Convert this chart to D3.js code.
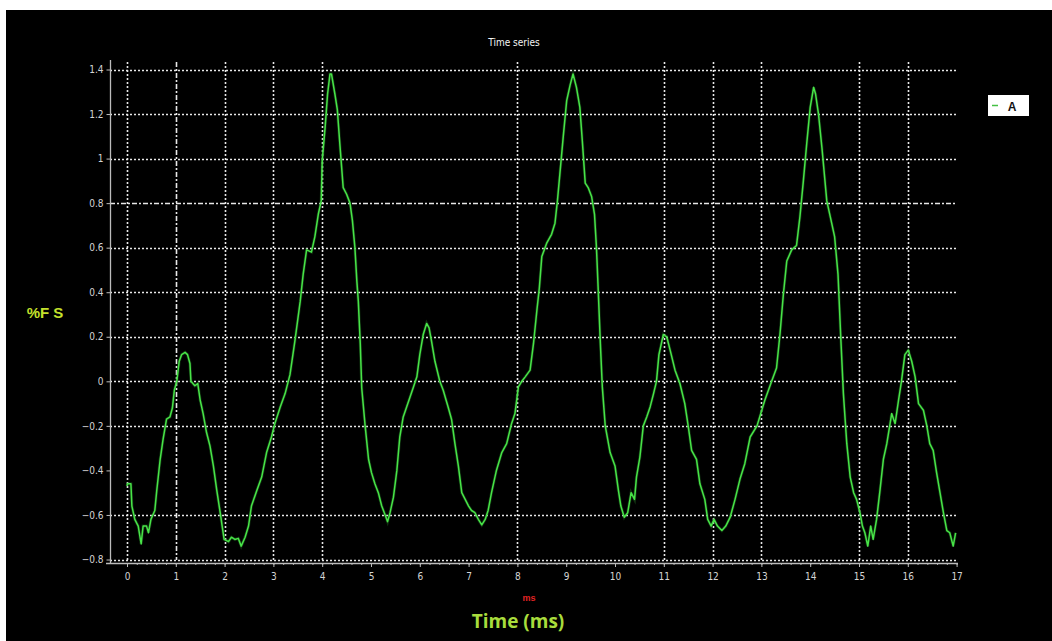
<!DOCTYPE html>
<html><head><meta charset="utf-8">
<script src="https://cdn.jsdelivr.net/npm/d3@7"></script>
<style>html,body{margin:0;padding:0;background:#fff;}svg{display:block;}</style>
</head><body>
<svg id="c" width="1052" height="641"></svg>
<script>
const timeMs = [0.00,0.01,0.08,0.10,0.16,0.23,0.29,0.33,0.40,0.44,0.49,0.57,0.61,0.68,0.74,0.81,0.88,0.93,0.97,1.02,1.07,1.12,1.19,1.24,1.29,1.31,1.39,1.45,1.50,1.56,1.63,1.70,1.77,1.84,1.91,1.95,1.99,2.08,2.14,2.21,2.28,2.34,2.42,2.49,2.55,2.66,2.76,2.86,2.96,3.03,3.14,3.24,3.34,3.44,3.55,3.61,3.68,3.78,3.85,3.92,3.98,4.00,4.06,4.11,4.16,4.19,4.26,4.31,4.36,4.43,4.50,4.57,4.62,4.67,4.71,4.74,4.78,4.81,4.88,4.95,5.01,5.08,5.15,5.22,5.29,5.34,5.39,5.46,5.53,5.59,5.66,5.73,5.80,5.87,5.94,6.00,6.07,6.14,6.19,6.24,6.31,6.41,6.48,6.58,6.65,6.72,6.79,6.86,6.93,7.00,7.06,7.13,7.20,7.27,7.34,7.40,7.47,7.57,7.68,7.78,7.88,7.95,8.02,8.09,8.16,8.26,8.33,8.40,8.45,8.50,8.60,8.70,8.77,8.82,8.87,8.94,9.01,9.08,9.14,9.21,9.28,9.33,9.39,9.45,9.52,9.58,9.62,9.66,9.70,9.74,9.80,9.90,10.00,10.07,10.12,10.19,10.26,10.33,10.40,10.44,10.51,10.58,10.65,10.72,10.79,10.85,10.90,10.99,11.06,11.13,11.23,11.33,11.43,11.50,11.57,11.67,11.74,11.84,11.90,11.97,12.03,12.10,12.19,12.27,12.36,12.46,12.56,12.66,12.77,12.91,13.07,13.21,13.31,13.38,13.45,13.52,13.62,13.72,13.79,13.86,13.93,14.00,14.07,14.11,14.17,14.24,14.34,14.43,14.50,14.57,14.63,14.68,14.75,14.82,14.89,14.95,15.02,15.07,15.12,15.18,15.24,15.29,15.36,15.43,15.50,15.57,15.67,15.74,15.81,15.87,15.94,16.01,16.08,16.15,16.22,16.32,16.39,16.45,16.52,16.59,16.66,16.73,16.80,16.86,16.93,16.98];
const seriesA = [-0.47,-0.46,-0.46,-0.56,-0.62,-0.65,-0.73,-0.65,-0.65,-0.68,-0.62,-0.58,-0.49,-0.35,-0.26,-0.17,-0.16,-0.12,-0.04,0.00,0.09,0.12,0.13,0.12,0.08,0.00,-0.02,-0.01,-0.085,-0.145,-0.23,-0.29,-0.38,-0.49,-0.59,-0.65,-0.71,-0.72,-0.70,-0.71,-0.705,-0.74,-0.70,-0.65,-0.56,-0.49,-0.43,-0.32,-0.25,-0.19,-0.115,-0.055,0.03,0.18,0.36,0.48,0.59,0.58,0.65,0.75,0.81,0.99,1.14,1.29,1.38,1.38,1.29,1.22,1.07,0.87,0.84,0.80,0.72,0.60,0.45,0.36,0.17,-0.03,-0.20,-0.35,-0.41,-0.46,-0.50,-0.56,-0.60,-0.63,-0.59,-0.52,-0.40,-0.25,-0.16,-0.115,-0.07,-0.025,0.02,0.12,0.21,0.26,0.24,0.18,0.09,0.00,-0.04,-0.115,-0.17,-0.28,-0.38,-0.50,-0.53,-0.56,-0.58,-0.59,-0.62,-0.645,-0.62,-0.58,-0.50,-0.40,-0.32,-0.28,-0.19,-0.145,-0.025,0.00,0.02,0.05,0.17,0.32,0.42,0.56,0.62,0.66,0.71,0.81,0.93,1.10,1.26,1.33,1.38,1.32,1.23,1.08,0.89,0.87,0.83,0.75,0.60,0.39,0.17,-0.025,-0.20,-0.32,-0.38,-0.49,-0.56,-0.61,-0.59,-0.50,-0.53,-0.43,-0.34,-0.20,-0.16,-0.115,-0.055,0.00,0.12,0.21,0.20,0.14,0.05,-0.01,-0.10,-0.20,-0.31,-0.35,-0.46,-0.53,-0.62,-0.65,-0.62,-0.65,-0.67,-0.65,-0.61,-0.53,-0.44,-0.37,-0.25,-0.20,-0.085,0.00,0.06,0.21,0.39,0.54,0.59,0.61,0.74,0.90,1.07,1.23,1.32,1.29,1.20,1.05,0.81,0.72,0.65,0.48,0.18,-0.055,-0.28,-0.43,-0.50,-0.53,-0.59,-0.65,-0.68,-0.74,-0.65,-0.71,-0.62,-0.49,-0.35,-0.28,-0.145,-0.19,-0.085,0.00,0.12,0.14,0.09,0.02,-0.10,-0.13,-0.20,-0.28,-0.31,-0.41,-0.50,-0.59,-0.67,-0.68,-0.74,-0.68];
const yTicks = [-0.8,-0.6,-0.4,-0.2,0,0.2,0.4,0.6,0.8,1,1.2,1.4];
const xTicks = [0,1,2,3,4,5,6,7,8,9,10,11,12,13,14,15,16,17];
const xMinorTicks = d3.range(0, 86).map(i => i / 5);
const xGridShown = [0,1,2,3,4,8,11,12,13,15,16];
const yGridShown = [-0.8,-0.6,-0.2,0,0.2,0.4,0.6,0.8,1,1.2,1.4];
const titleText = "Time series";
const yLabel = "%F S";
const xLabel = "Time (ms)";
const unitLabel = "ms";
const legendName = "A";

const svg = d3.select("#c");
svg.append("rect").attr("x",6).attr("y",10).attr("width",1046).attr("height",631).attr("fill","#000");

const x = d3.scaleLinear().domain([0,17]).range([127,956.6]);
const y = d3.scaleLinear().domain([-0.8,1.4]).range([559.5,69.5]);

const gridColor = "#e8e8e8";
// horizontal grid
svg.append("g").selectAll("line").data(yGridShown).join("line")
  .attr("x1",110).attr("x2",957).attr("y1",d=>Math.round(y(d))+0.5).attr("y2",d=>Math.round(y(d))+0.5)
  .attr("stroke",gridColor).attr("stroke-width",1.6)
  .attr("stroke-dasharray",d=>Math.abs(d-0.8)<1e-9?"5,2,2,2":"2,2");
// vertical grid
svg.append("g").selectAll("line").data(xGridShown).join("line")
  .attr("y1",62).attr("y2",560).attr("x1",d=>Math.round(x(d))+0.5).attr("x2",d=>Math.round(x(d))+0.5)
  .attr("stroke",gridColor).attr("stroke-width",1.6)
  .attr("stroke-dasharray",d=>d===1?"5,2,2,2":"2,2");

// Y axis
const yAxis = svg.append("g").attr("transform","translate(110.5,0)")
  .call(d3.axisLeft(y).tickValues(yTicks).tickSize(4).tickPadding(3).tickFormat(d=>d3.format("~g")(d)));
yAxis.select(".domain").remove();
yAxis.selectAll("line").attr("stroke","#bbb");
yAxis.selectAll("text").attr("fill","#d4d4d4").attr("font-family","DejaVu Sans Condensed, Liberation Sans, sans-serif").attr("font-size","10px");
svg.append("line").attr("x1",110.5).attr("x2",110.5).attr("y1",60).attr("y2",563).attr("stroke","#bbb").attr("stroke-width",1.3);

// X axis
const xMinor = svg.append("g").attr("transform","translate(0,563)")
  .call(d3.axisBottom(x).tickValues(xMinorTicks).tickSize(2).tickFormat(""));
xMinor.select(".domain").remove();
xMinor.selectAll("line").attr("stroke","#aaa");
const xAxis = svg.append("g").attr("transform","translate(0,563)")
  .call(d3.axisBottom(x).tickValues(xTicks).tickSize(4).tickPadding(6).tickFormat(d3.format("d")));
xAxis.select(".domain").remove();
xAxis.selectAll("line").attr("stroke","#bbb");
xAxis.selectAll("text").attr("fill","#d4d4d4").attr("font-family","DejaVu Sans Condensed, Liberation Sans, sans-serif").attr("font-size","10px");
svg.append("line").attr("x1",106).attr("x2",958).attr("y1",563.5).attr("y2",563.5).attr("stroke","#bbb").attr("stroke-width",1.3);

// Line
const pts = timeMs.map((t,i)=>[t,seriesA[i]]);
const line = d3.line().x(d=>x(d[0])).y(d=>y(d[1])).curve(d3.curveLinear);
svg.append("path").datum(pts).attr("d",line).attr("fill","none")
  .attr("stroke","#2a8a2a").attr("stroke-width",3).attr("opacity",0.35);
svg.append("path").datum(pts).attr("d",line).attr("fill","none")
  .attr("stroke","#48e448").attr("stroke-width",1.5).attr("stroke-linejoin","round");

// Title
svg.append("text").attr("x",514).attr("y",46).attr("text-anchor","middle")
  .attr("fill","#f4f4f4").attr("font-family","DejaVu Sans Condensed, Liberation Sans, sans-serif")
  .attr("font-size","10px").text(titleText);

// Y label
svg.append("text").attr("x",45).attr("y",318).attr("text-anchor","middle")
  .attr("fill","#c4e02c").attr("font-family","Liberation Sans, Arial, sans-serif").attr("font-weight","bold")
  .attr("font-size","15px").text(yLabel);

// unit label
svg.append("text").attr("x",529).attr("y",601).attr("text-anchor","middle")
  .attr("fill","#e02424").attr("font-family","Liberation Sans, Arial, sans-serif").attr("font-weight","bold")
  .attr("font-size","9px").text(unitLabel);

// X label
svg.append("text").attr("x",518).attr("y",628).attr("text-anchor","middle")
  .attr("fill","#a8dc3c").attr("font-family","Open Sans, sans-serif").attr("font-weight","bold")
  .attr("font-size","19px").text(xLabel);

// Legend
const lg = svg.append("g");
lg.append("rect").attr("x",988).attr("y",95).attr("width",41).attr("height",21).attr("fill","#fff");
lg.append("line").attr("x1",992).attr("x2",998).attr("y1",105.5).attr("y2",105.5).attr("stroke","#45c045").attr("stroke-width",1.5);
lg.append("text").attr("x",1012).attr("y",111).attr("text-anchor","middle")
  .attr("fill","#111").attr("font-family","Liberation Sans, Arial, sans-serif").attr("font-weight","bold")
  .attr("font-size","12px").text(legendName);
</script>
</body></html>
